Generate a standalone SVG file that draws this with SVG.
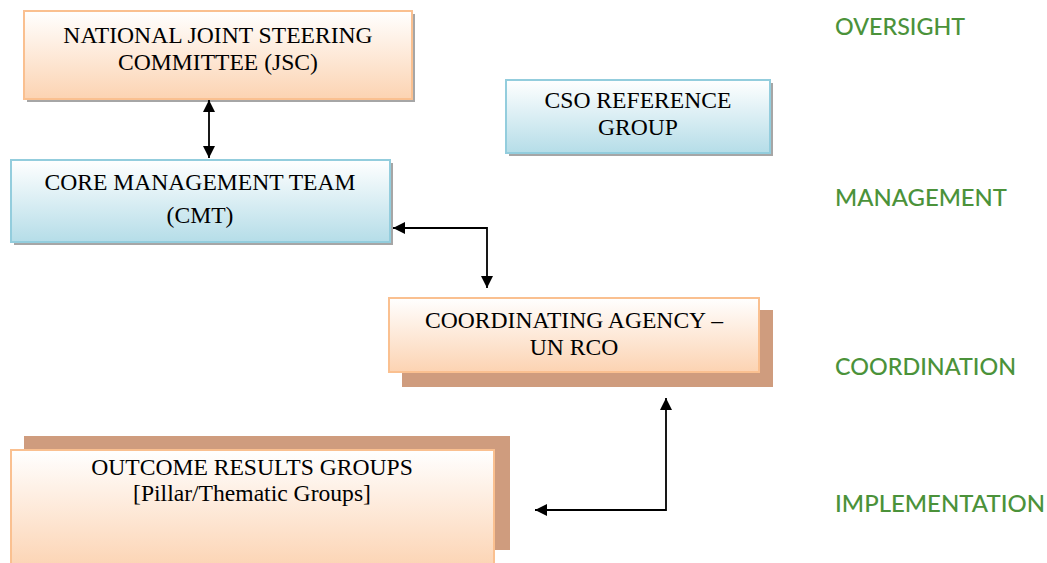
<svg xmlns="http://www.w3.org/2000/svg" width="1047" height="563" viewBox="0 0 1047 563">
<style>
.box-o{fill:url(#gO);stroke:#FAC090;stroke-width:2}
.box-b{fill:url(#gB);stroke:#93CDDD;stroke-width:2}
.sh{fill:#A6A6A6}
.shb{fill:#CF9C7E}
.t{font-family:"Liberation Serif","Times New Roman",serif;font-size:23.6px;fill:#000;text-anchor:middle}
.lvl{font-family:Lato,"Open Sans",sans-serif;font-size:22.5px;fill:#4B923A;font-weight:500}
.c{fill:none;stroke:#000;stroke-width:1.8}
</style>
<defs>
<linearGradient id="gO" x1="0" y1="0" x2="0" y2="1"><stop offset="0" stop-color="#FFFFFF"/><stop offset="1" stop-color="#FCD3B2"/></linearGradient>
<linearGradient id="gB" x1="0" y1="0" x2="0" y2="1"><stop offset="0" stop-color="#FFFFFF"/><stop offset="1" stop-color="#B5DDE8"/></linearGradient>
<marker id="ah" viewBox="0 0 10 10" refX="10" refY="5" markerWidth="12" markerHeight="12" markerUnits="userSpaceOnUse" orient="auto-start-reverse"><path d="M0,0 L10,5 L0,10 Z" fill="#000"/></marker>
</defs>
<g id="jsc">
<rect class="sh" x="27" y="14" width="388" height="88"/>
<rect class="box-o" x="24" y="11" width="388" height="88"/>
<text class="t" x="218" y="43">NATIONAL JOINT STEERING</text>
<text class="t" x="218" y="70">COMMITTEE (JSC)</text>
</g>
<g id="cso">
<rect class="sh" x="509" y="83" width="264" height="73"/>
<rect class="box-b" x="506" y="80" width="264" height="73"/>
<text class="t" x="638" y="108">CSO REFERENCE</text>
<text class="t" x="638" y="135">GROUP</text>
</g>
<g id="cmt">
<rect class="sh" x="14" y="163" width="379" height="82"/>
<rect class="box-b" x="11" y="160" width="379" height="82"/>
<text class="t" x="200" y="190">CORE MANAGEMENT TEAM</text>
<text class="t" x="200" y="223">(CMT)</text>
</g>
<g id="ca">
<rect class="shb" x="402" y="310" width="371" height="77"/>
<rect class="box-o" x="389" y="298" width="370" height="74"/>
<text class="t" x="574" y="328">COORDINATING AGENCY –</text>
<text class="t" x="574" y="355">UN RCO</text>
</g>
<g id="org">
<rect class="shb" x="24" y="436" width="486" height="114"/>
<rect class="box-o" x="11" y="450" width="483" height="120"/>
<text class="t" x="252" y="475">OUTCOME RESULTS GROUPS</text>
<text class="t" x="252" y="501">[Pillar/Thematic Groups]</text>
</g>
<g id="levels">
<text class="lvl" x="835" y="35" textLength="130" lengthAdjust="spacingAndGlyphs">OVERSIGHT</text>
<text class="lvl" x="835" y="206" textLength="172" lengthAdjust="spacingAndGlyphs">MANAGEMENT</text>
<text class="lvl" x="835" y="375" textLength="181" lengthAdjust="spacingAndGlyphs">COORDINATION</text>
<text class="lvl" x="835" y="512" textLength="210" lengthAdjust="spacingAndGlyphs">IMPLEMENTATION</text>
</g>
<g id="connectors">
<path class="c" d="M209,100 L209,158" marker-start="url(#ah)" marker-end="url(#ah)"/>
<path class="c" d="M393,228 L487,228 L487,288" marker-start="url(#ah)" marker-end="url(#ah)"/>
<path class="c" d="M666,398 L666,510 L535,510" marker-start="url(#ah)" marker-end="url(#ah)"/>
</g>
</svg>
